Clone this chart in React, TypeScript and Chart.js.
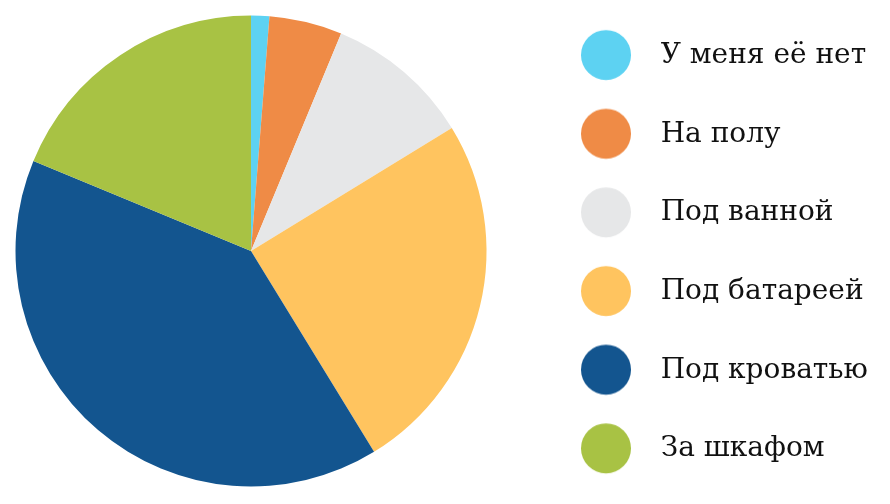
import React, { useEffect, useRef } from "react";
import { Chart, registerables } from "chart.js";

Chart.register(...registerables);

const categories = ["У меня её нет", "На полу", "Под ванной", "Под батареей", "Под кроватью", "За шкафом"];
const values = [1, 4, 8, 20, 32, 15];
const colors = ["#5DD2F2", "#EF8B46", "#E6E7E8", "#FFC45F", "#13558F", "#A8C244"];

// layout targets (page pixels)
const PIE_CX = 251;
const PIE_CY = 251;
const PIE_R = 235.5;
const DOT_CX = 606;
const DOT_R = 25;
const DOT_LIFT = 0.85;
const TEXT_X = 660.7;
const ROW_GAP = 78.66;
const LEGEND_SHIFT = 3; // extra top space (legend moves down by half of it)
const FONT_FAMILY = "'DejaVu Serif'";
const FONT_SIZE = 28;

const CANVAS_W = 960;
const CANVAS_H = 540;

// derived legend geometry
const LEGEND_PAD = ROW_GAP - FONT_SIZE;
const BOX_W = 2 * (TEXT_X - DOT_CX - FONT_SIZE / 2);
const ITEM_X = DOT_CX - BOX_W / 2;
const RAW_DX = ITEM_X - LEGEND_PAD - 2 * PIE_CX;
const OFF_X = Math.ceil(RAW_DX);
const PAD_LEFT = OFF_X - RAW_DX;
const OFF_Y = CANVAS_H / 2 - PIE_CY;
const LEGEND_LEFT = ITEM_X + OFF_X - LEGEND_PAD;

function makeDot(color: string, r: number, lift: number): HTMLCanvasElement {
  const c = document.createElement("canvas");
  const h = Math.ceil(2 * r + 2 * lift + 2);
  c.width = 2 * r;
  c.height = h;
  const ctx = c.getContext("2d")!;
  ctx.fillStyle = color;
  ctx.beginPath();
  ctx.arc(r, h / 2 - lift, r, 0, Math.PI * 2);
  ctx.fill();
  return c;
}

export default function App() {
  const ref = useRef<HTMLCanvasElement | null>(null);

  useEffect(() => {
    if (!ref.current) return;
    const dots = colors.map((c) => makeDot(c, DOT_R, DOT_LIFT));
    const mctx = document.createElement("canvas").getContext("2d")!;
    mctx.font = `${FONT_SIZE}px ${FONT_FAMILY}`;
    const maxText = Math.max(...categories.map((t) => mctx.measureText(t).width));
    const legendW = LEGEND_PAD + BOX_W + FONT_SIZE / 2 + maxText + 10;
    const padRight = Math.max(CANVAS_W - LEGEND_LEFT - legendW, 0);

    const chart = new Chart(ref.current, {
      type: "pie",
      data: {
        labels: categories,
        datasets: [
          {
            data: values,
            backgroundColor: colors,
            borderWidth: 0,
            radius: PIE_R,
          } as any,
        ],
      },
      options: {
        responsive: false,
        animation: false,
        events: [],
        layout: { padding: { left: PAD_LEFT, right: padRight, top: 0, bottom: 0 } },
        plugins: {
          tooltip: { enabled: false },
          legend: {
            display: true,
            position: "right",
            align: "center",
            title: {
              display: true,
              text: "",
              padding: 0,
              font: { size: 1, lineHeight: LEGEND_SHIFT },
            },
            labels: {
              usePointStyle: true,
              pointStyleWidth: BOX_W,
              padding: LEGEND_PAD,
              color: "#111",
              font: { family: FONT_FAMILY, size: FONT_SIZE },
              generateLabels: (ch: any) =>
                ch.data.labels.map((label: string, i: number) => ({
                  text: label,
                  fillStyle: colors[i],
                  strokeStyle: colors[i],
                  fontColor: "#111",
                  lineWidth: 0,
                  pointStyle: dots[i],
                  hidden: false,
                  index: i,
                  datasetIndex: 0,
                })),
            },
          } as any,
        },
      },
    });
    return () => chart.destroy();
  }, []);

  return (
    <div
      style={{
        position: "absolute",
        left: 0,
        top: 0,
        width: 890,
        height: 504,
        overflow: "hidden",
        background: "#fff",
      }}
    >
      <canvas
        ref={ref}
        width={CANVAS_W}
        height={CANVAS_H}
        style={{
          position: "absolute",
          left: -OFF_X,
          top: -OFF_Y,
          width: CANVAS_W,
          height: CANVAS_H,
          display: "block",
        }}
      />
    </div>
  );
}
